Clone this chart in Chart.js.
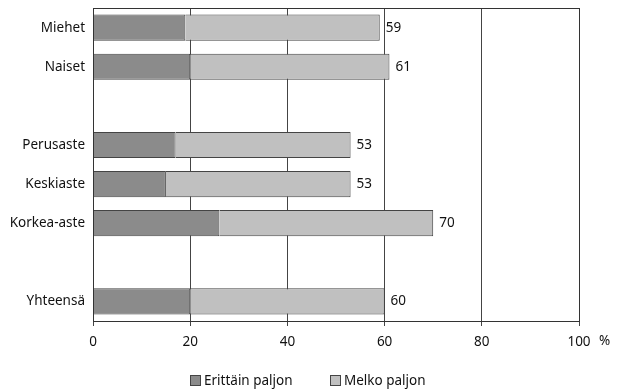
<!DOCTYPE html>
<html>
<head>
<meta charset="utf-8">
<script src="https://cdn.jsdelivr.net/npm/chart.js@4"></script>
<style>
  html, body { margin: 0; padding: 0; background: #fff; }
  #wrap { position: relative; width: 619px; height: 391px; }
  #selite { position: absolute; left: 0; top: 371px; width: 619px; font: 13.5px 'Noto Sans', sans-serif; color: #111; }
  #selite span { position: absolute; top: 0; white-space: nowrap; line-height: 18px; }
  #selite i { display: inline-block; width: 9px; height: 9px; border: 1px solid #444; margin-right: 3px; vertical-align: -1px; }
</style>
</head>
<body>
<div id="wrap">
  <canvas id="myChart" width="619" height="391"></canvas>
  <div id="selite"></div>
</div>
<script>
var ryhmat = ["Miehet", "Naiset", "", "Perusaste", "Keskiaste", "Korkea-aste", "", "Yhteensä"]
var erittainPaljon = [19, 20, null, 17, 15, 26, null, 20]
var melkoPaljon = [40, 41, null, 36, 38, 44, null, 40]
var yhteensa = [59, 61, null, 53, 53, 70, null, 60]
var xTicks = [0, 20, 40, 60, 80, 100]

var fontti = "'Noto Sans', 'Open Sans', sans-serif"
var koko = 13.5

// kehys, arvot palkkien perään ja %-merkki
var lisat = {
    id: 'lisat',
    afterDatasetsDraw: function(chart) {
        var ctx = chart.ctx
        var a = chart.chartArea
        ctx.save()
        ctx.strokeStyle = '#333'
        ctx.lineWidth = 1
        ctx.strokeRect(Math.round(a.left) + 0.5, Math.round(a.top) + 0.5, Math.round(a.right - a.left), Math.round(a.bottom - a.top))
        ctx.fillStyle = '#111'
        ctx.font = koko + 'px ' + fontti
        ctx.textBaseline = 'middle'
        var xs = chart.scales.x
        var ys = chart.scales.y
        for (var i = 0; i < yhteensa.length; i++) {
            if (yhteensa[i] == null) continue
            ctx.fillText(yhteensa[i], xs.getPixelForValue(yhteensa[i]) + 6, ys.getPixelForValue(i))
        }
        ctx.textAlign = 'left'
        ctx.fillText('%', xs.getPixelForValue(100) + 20, a.bottom + 20)
        ctx.restore()
    }
}

var myChart = new Chart(document.getElementById('myChart').getContext('2d'), {
    type: 'bar',
    data: {
        labels: ryhmat,
        datasets: [{
            label: 'Erittäin paljon',
            data: erittainPaljon,
            backgroundColor: '#8b8b8b',
            borderColor: '#444',
            borderWidth: 1
        }, {
            label: 'Melko paljon',
            data: melkoPaljon,
            backgroundColor: '#c0c0c0',
            borderColor: '#444',
            borderWidth: 1
        }]
    },
    options: {
        indexAxis: 'y',
        responsive: false,
        animation: false,
        layout: { padding: { top: 8, right: 40, left: 0, bottom: 0 } },
        datasets: { bar: { categoryPercentage: 0.67, barPercentage: 1 } },
        plugins: {
            tooltip: { enabled: false },
            legend: { display: false }
        },
        scales: {
            x: {
                stacked: true,
                min: 0,
                max: 100,
                afterBuildTicks: function(ax) { ax.ticks = xTicks.map(function(v) { return { value: v } }) },
                grid: { color: '#444', lineWidth: 1, tickLength: 5 },
                border: { color: '#333' },
                ticks: { color: '#111', font: { family: fontti, size: koko }, padding: 8 },
                afterFit: function(ax) { ax.height = 70 }
            },
            y: {
                stacked: true,
                grid: { display: false },
                border: { color: '#333' },
                ticks: { color: '#111', font: { family: fontti, size: koko }, padding: 0 },
                afterFit: function(ax) { ax.width = 93 }
            }
        }
    },
    plugins: [lisat]
})

// selite datasettien väreistä
var selite = document.getElementById('selite')
var paikat = [190, 330]
myChart.data.datasets.forEach(function(ds, i) {
    var s = document.createElement('span')
    s.style.left = paikat[i] + 'px'
    s.innerHTML = '<i style="background:' + ds.backgroundColor + '"></i>' + ds.label
    selite.appendChild(s)
})
</script>
</body>
</html>
